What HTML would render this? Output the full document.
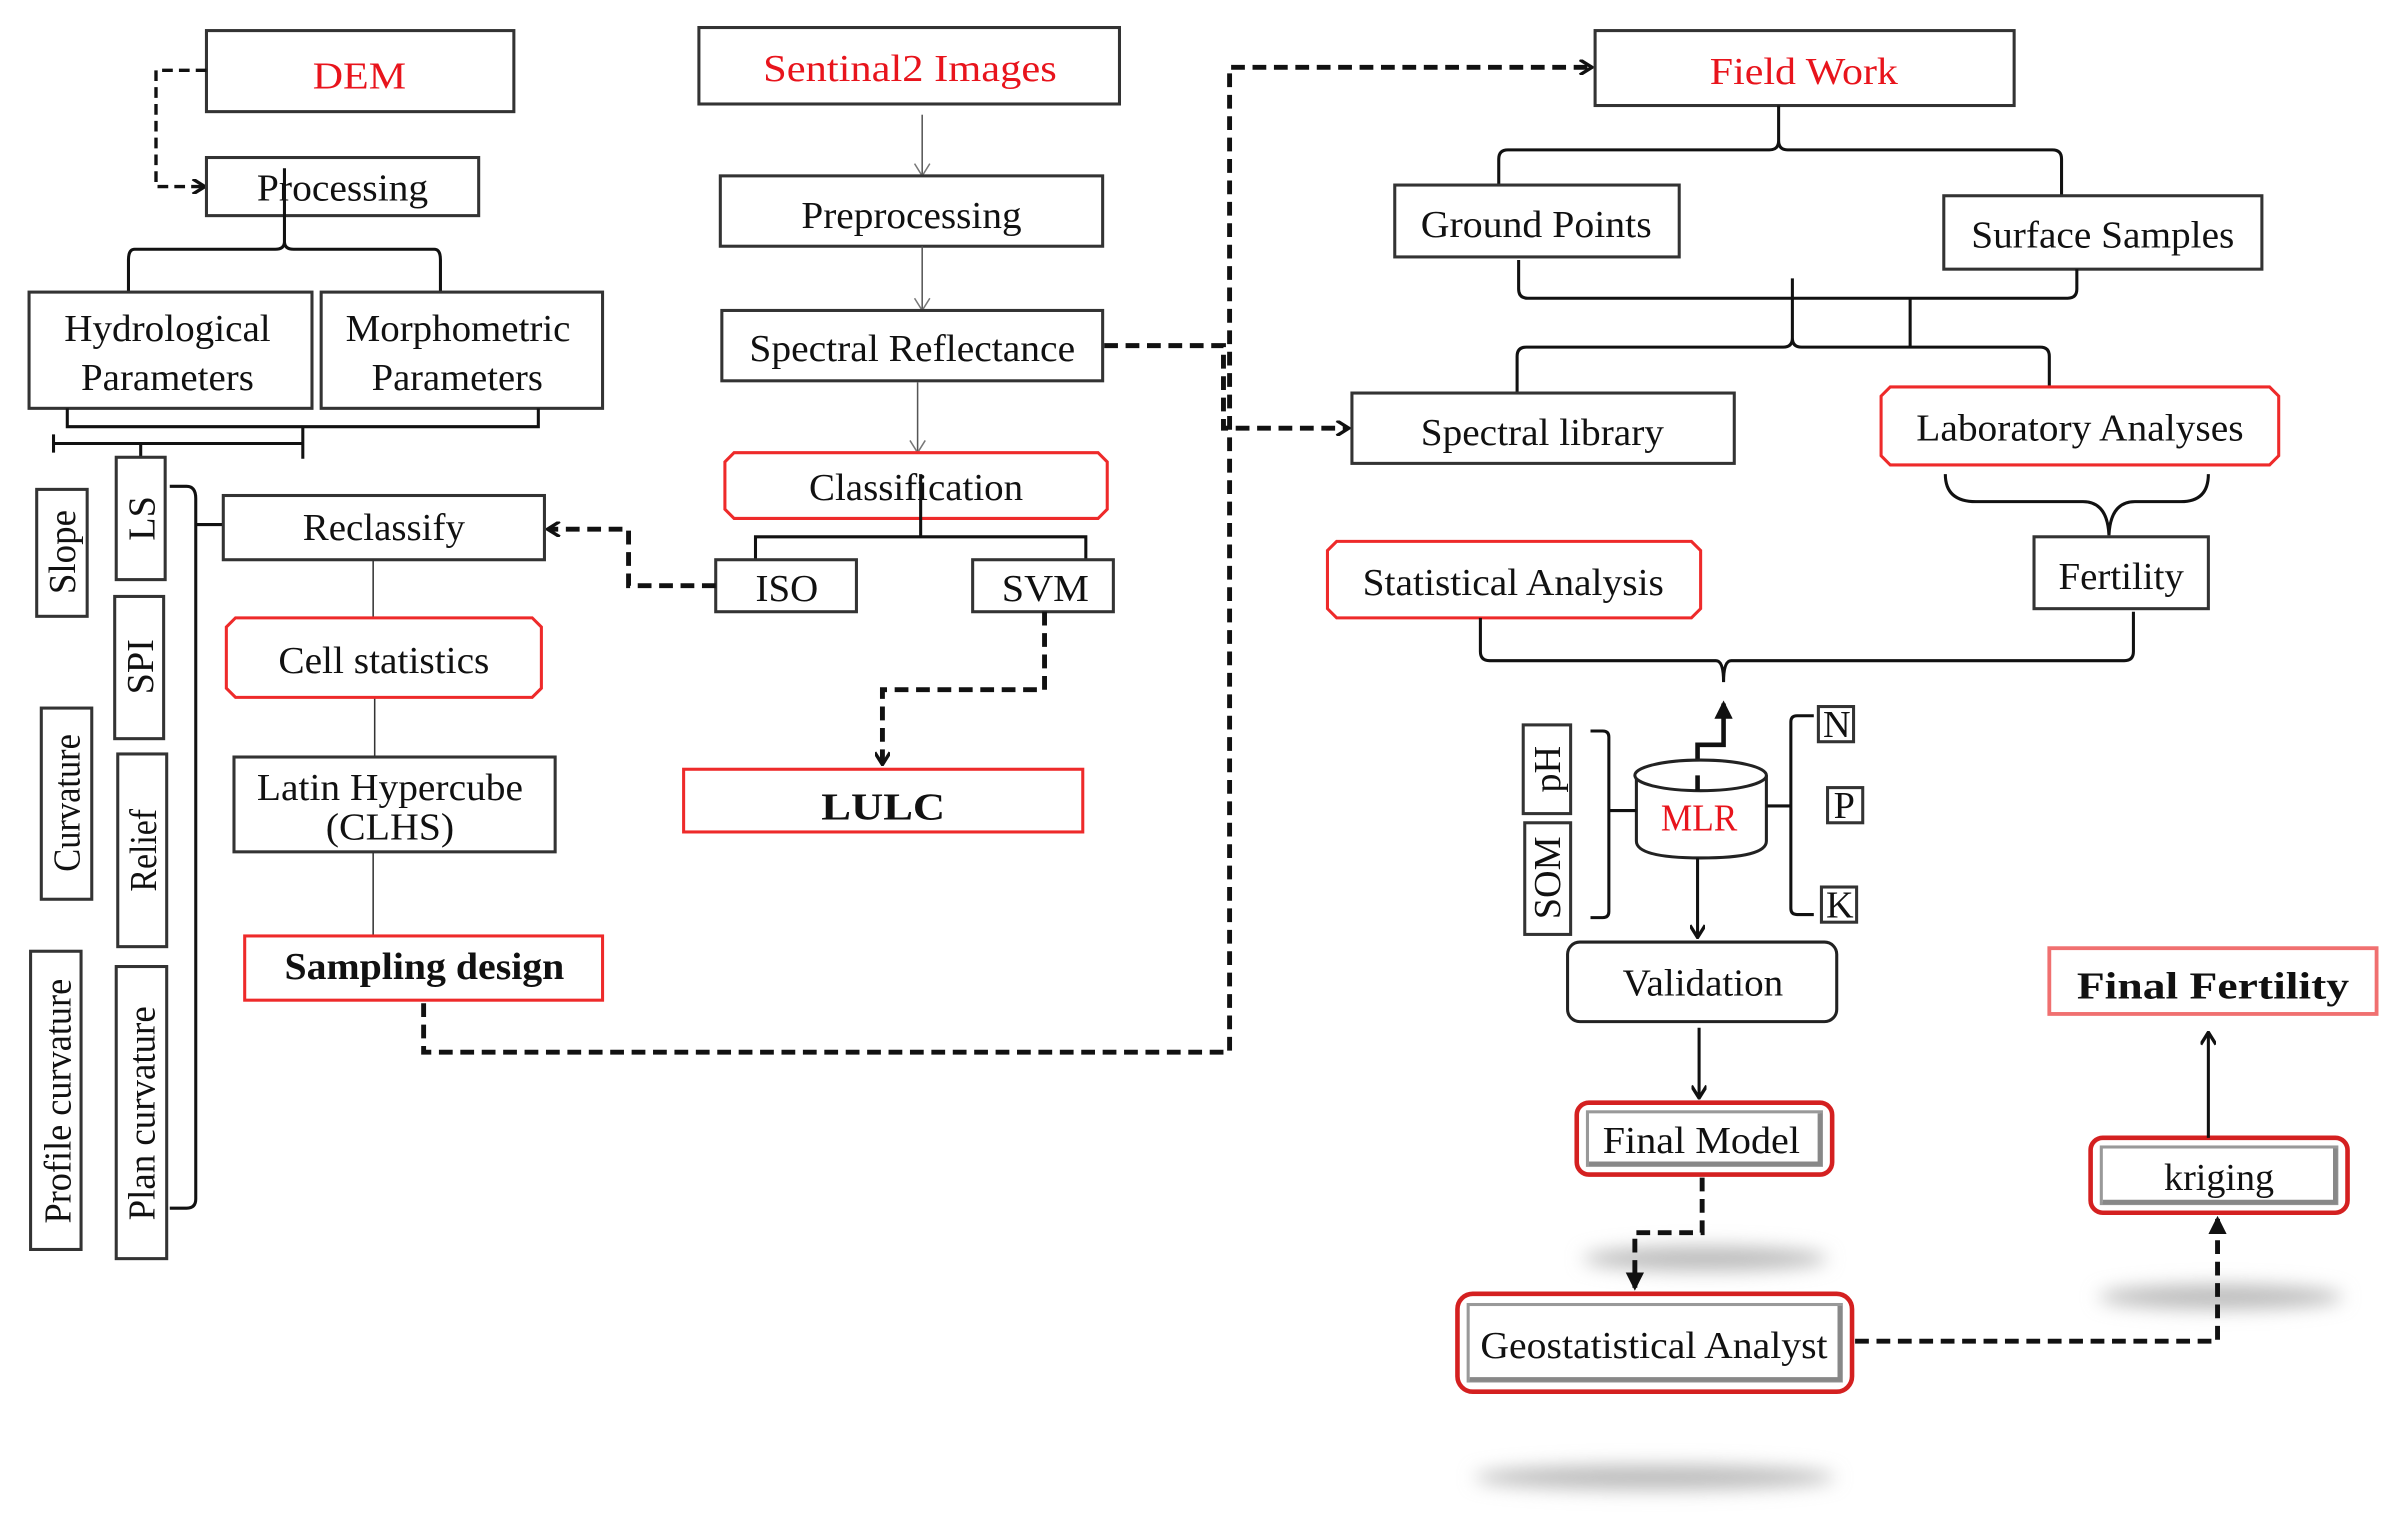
<!DOCTYPE html>
<html><head><meta charset="utf-8"><style>
html,body{margin:0;padding:0;background:#fff;}
svg{display:block;}
text{font-family:"Liberation Serif",serif;font-size:25px;fill:#111;}
.r{fill:#e8141c;}
.b{font-weight:bold;}
.bx{fill:#fff;stroke:#333;stroke-width:2;}
.rb{fill:#fff;stroke:#ee2a2a;stroke-width:2;}
.ln{fill:none;stroke:#111;stroke-width:2;}
.th{fill:none;stroke:#555;stroke-width:1;}
.ds{fill:none;stroke:#111;stroke-width:3.2;stroke-dasharray:9 5;}
</style></head><body>
<svg width="2398" height="1533" viewBox="0 0 1568 1002.4" preserveAspectRatio="none" xmlns="http://www.w3.org/2000/svg">
<defs>
<filter id="bl" x="-50%" y="-200%" width="200%" height="500%"><feGaussianBlur stdDeviation="6"/></filter>
<marker id="ah" markerWidth="10" markerHeight="10" refX="8" refY="5" orient="auto" markerUnits="userSpaceOnUse"><path d="M1,0 L9,5 L1,10" fill="none" stroke="#111" stroke-width="2.2"/></marker>
<marker id="ag" markerWidth="10" markerHeight="12" refX="8" refY="6" orient="auto" markerUnits="userSpaceOnUse"><path d="M1,1 L9,6 L1,11" fill="none" stroke="#777" stroke-width="1"/></marker>
<marker id="at" markerWidth="12" markerHeight="12" refX="10" refY="6" orient="auto" markerUnits="userSpaceOnUse"><path d="M0,0 L12,6 L0,12 Z" fill="#111"/></marker>
</defs>

<ellipse cx="1115" cy="823" rx="80" ry="8" fill="#bbb" filter="url(#bl)"/>
<ellipse cx="1452" cy="848" rx="80" ry="8" fill="#bbb" filter="url(#bl)"/>
<ellipse cx="1082" cy="966" rx="118" ry="8" fill="#bbb" filter="url(#bl)"/>

<rect class="bx" x="135" y="20" width="201" height="53"/>
<text class="r" x="235" y="58" font-size="28" text-anchor="middle" textLength="61" lengthAdjust="spacingAndGlyphs">DEM</text>
<path class="ds" style="stroke-width:2.2;stroke-dasharray:7 4" d="M135,46 H102 V122 H133" marker-end="url(#ah)"/>
<rect class="bx" x="135" y="103" width="178" height="38"/>
<text x="168" y="131" textLength="112" lengthAdjust="spacingAndGlyphs">Processing</text>
<path class="ln" d="M186,110 V158 Q186,163 180,163 H88 Q84,163 84,170 V191 M186,158 Q186,163 192,163 H284 Q288,163 288,170 V191"/>
<rect class="bx" x="19" y="191" width="185" height="76"/>
<text x="42" y="223" textLength="135" lengthAdjust="spacingAndGlyphs">Hydrological</text>
<text x="53" y="255" textLength="113" lengthAdjust="spacingAndGlyphs">Parameters</text>
<rect class="bx" x="210" y="191" width="184" height="76"/>
<text x="226" y="223" textLength="147" lengthAdjust="spacingAndGlyphs">Morphometric</text>
<text x="243" y="255" textLength="112" lengthAdjust="spacingAndGlyphs">Parameters</text>
<path class="ln" d="M44,267 V279 H352 V267 M198,279 V300 M35,290 H198 M35,284 V296 M92,290 V299"/>

<rect class="bx" x="24" y="320" width="33" height="83"/>
<text transform="translate(49,361) rotate(-90)" text-anchor="middle" textLength="55" lengthAdjust="spacingAndGlyphs">Slope</text>
<rect class="bx" x="76" y="299" width="32" height="80"/>
<text transform="translate(101,339) rotate(-90)" text-anchor="middle">LS</text>
<rect class="bx" x="75" y="390" width="32" height="93"/>
<text transform="translate(100,436) rotate(-90)" text-anchor="middle">SPI</text>
<rect class="bx" x="27" y="463" width="33" height="125"/>
<text transform="translate(52,525) rotate(-90)" text-anchor="middle" textLength="90" lengthAdjust="spacingAndGlyphs">Curvature</text>
<rect class="bx" x="77" y="493" width="32" height="126"/>
<text transform="translate(102,556) rotate(-90)" text-anchor="middle" textLength="54" lengthAdjust="spacingAndGlyphs">Relief</text>
<rect class="bx" x="20" y="622" width="33" height="195"/>
<text transform="translate(46,720) rotate(-90)" text-anchor="middle" textLength="160" lengthAdjust="spacingAndGlyphs">Profile curvature</text>
<rect class="bx" x="76" y="632" width="33" height="191"/>
<text transform="translate(101,728) rotate(-90)" text-anchor="middle" textLength="140" lengthAdjust="spacingAndGlyphs">Plan curvature</text>
<path class="ln" d="M111,318 H122 Q128,318 128,326 V784 Q128,790 122,790 H111 M128,343 H146"/>

<rect class="bx" x="146" y="324" width="210" height="42"/>
<text x="198" y="353" textLength="106" lengthAdjust="spacingAndGlyphs">Reclassify</text>
<path class="th" style="stroke:#333" d="M244,366 V404 M245,456 V495 M244,557 V612"/>
<path class="rb" d="M154,404 H348 L354,410 V450 L348,456 H154 L148,450 V410 Z"/>
<text x="182" y="440" textLength="138" lengthAdjust="spacingAndGlyphs">Cell statistics</text>
<rect class="bx" x="153" y="495" width="210" height="62"/>
<text x="168" y="523" textLength="174" lengthAdjust="spacingAndGlyphs">Latin Hypercube</text>
<text x="213" y="549" textLength="84" lengthAdjust="spacingAndGlyphs">(CLHS)</text>
<rect class="rb" x="160" y="612" width="234" height="42"/>
<text class="b" x="186" y="640" textLength="183" lengthAdjust="spacingAndGlyphs">Sampling design</text>

<path class="ds" d="M277,656 V688 H804 V44 H1040" marker-end="url(#ah)"/>
<path class="ds" d="M722,226 H800 V280 H881" marker-end="url(#ah)"/>

<rect class="bx" x="457" y="18" width="275" height="50"/>
<text class="r" x="499" y="53" textLength="192" lengthAdjust="spacingAndGlyphs">Sentinal2 Images</text>
<path class="th" d="M603,75 V114" marker-end="url(#ag)"/>
<rect class="bx" x="471" y="115" width="250" height="46"/>
<text x="524" y="149" textLength="144" lengthAdjust="spacingAndGlyphs">Preprocessing</text>
<path class="th" d="M603,161 V202" marker-end="url(#ag)"/>
<rect class="bx" x="472" y="203" width="249" height="46"/>
<text x="490" y="236" textLength="213" lengthAdjust="spacingAndGlyphs">Spectral Reflectance</text>
<path class="th" d="M600,250 V295" marker-end="url(#ag)"/>
<path class="rb" d="M480,296 H718 L724,302 V333 L718,339 H480 L474,333 V302 Z"/>
<text x="529" y="327" textLength="140" lengthAdjust="spacingAndGlyphs">Classification</text>
<path class="ln" d="M602,310 V351 M494,366 V351 H710 V366"/>
<rect class="bx" x="468" y="366" width="92" height="34"/>
<text x="494" y="393" textLength="41" lengthAdjust="spacingAndGlyphs">ISO</text>
<rect class="bx" x="636" y="366" width="92" height="34"/>
<text x="655" y="393" textLength="57" lengthAdjust="spacingAndGlyphs">SVM</text>
<path class="ds" d="M468,383 H411 V346 H359" marker-end="url(#ah)"/>
<path class="ds" d="M683,400 V451 H577 V499" marker-end="url(#ah)"/>
<rect class="rb" x="447" y="503" width="261" height="41"/>
<text class="b" x="537" y="536" font-size="31" textLength="81" lengthAdjust="spacingAndGlyphs">LULC</text>

<rect class="bx" x="1043" y="20" width="274" height="49"/>
<text class="r" x="1118" y="55" textLength="123" lengthAdjust="spacingAndGlyphs">Field Work</text>
<path class="ln" d="M1163,69 V92 Q1163,98 1157,98 H986 Q980,98 980,104 V121 M1163,92 Q1163,98 1169,98 H1342 Q1348,98 1348,104 V128"/>
<rect class="bx" x="912" y="121" width="186" height="47"/>
<text x="929" y="155" textLength="151" lengthAdjust="spacingAndGlyphs">Ground Points</text>
<rect class="bx" x="1271" y="128" width="208" height="48"/>
<text x="1289" y="162" textLength="172" lengthAdjust="spacingAndGlyphs">Surface Samples</text>
<path class="ln" d="M993,170 V189 Q993,195 999,195 H1352 Q1358,195 1358,189 V176 M1249,195 V228 M1172,182 V221 Q1172,227 1166,227 H998 Q992,227 992,233 V257 M1172,221 Q1172,227 1178,227 H1334 Q1340,227 1340,233 V258"/>
<rect class="bx" x="884" y="257" width="250" height="46"/>
<text x="929" y="291" textLength="159" lengthAdjust="spacingAndGlyphs">Spectral library</text>
<path class="rb" d="M1236,253 H1484 L1490,259 V298 L1484,304 H1236 L1230,298 V259 Z"/>
<text x="1253" y="288" textLength="214" lengthAdjust="spacingAndGlyphs">Laboratory Analyses</text>
<path class="ln" d="M1272,310 Q1272,328 1292,328 H1362 Q1378,328 1379,350 Q1380,328 1396,328 H1426 Q1444,328 1444,310"/>
<rect class="bx" x="1330" y="351" width="114" height="47"/>
<text x="1346" y="385" textLength="82" lengthAdjust="spacingAndGlyphs">Fertility</text>
<path class="rb" d="M874,354 H1106 L1112,360 V398 L1106,404 H874 L868,398 V360 Z"/>
<text x="891" y="389" textLength="197" lengthAdjust="spacingAndGlyphs">Statistical Analysis</text>
<path class="ln" d="M968,404 V426 Q968,432 974,432 H1122 Q1127,432 1127,446 Q1127,432 1132,432 H1389 Q1395,432 1395,426 V400"/>
<path class="ln" style="stroke-width:3" d="M1110,510 V487 H1127 V460" marker-end="url(#at)"/>

<path class="bx" style="stroke:#222" d="M1070,507 V550 Q1070,561 1112,561 Q1155,561 1155,550 V507"/>
<ellipse class="bx" style="stroke:#222" cx="1112" cy="507" rx="43" ry="10"/>
<path class="ln" style="stroke-width:3" d="M1110,507 V517"/>
<text class="r" x="1086" y="543" textLength="50" lengthAdjust="spacingAndGlyphs">MLR</text>
<path class="ln" d="M1040,478 H1048 Q1052,478 1052,482 V596 Q1052,600 1048,600 H1040 M1052,530 H1070 M1186,468 H1175 Q1171,468 1171,472 V594 Q1171,598 1175,598 H1186 M1155,527 H1171"/>
<rect class="bx" x="996" y="474" width="31" height="58"/>
<text transform="translate(1020,503) rotate(-90)" text-anchor="middle" font-size="23">pH</text>
<rect class="bx" x="997" y="538" width="30" height="73"/>
<text transform="translate(1020,574) rotate(-90)" text-anchor="middle" font-size="21">SOM</text>
<rect class="bx" x="1189" y="462" width="23" height="23"/>
<text x="1192" y="482" font-size="21">N</text>
<rect class="bx" x="1195" y="515" width="23" height="23"/>
<text x="1199" y="535" font-size="21">P</text>
<rect class="bx" x="1191" y="580" width="23" height="23"/>
<text x="1194" y="600" font-size="21">K</text>
<path class="ln" d="M1110,561 V612" marker-end="url(#ah)"/>

<rect class="bx" style="stroke:#222" x="1025" y="616" width="176" height="52" rx="8"/>
<text x="1061" y="651" textLength="105" lengthAdjust="spacingAndGlyphs">Validation</text>
<path class="ln" d="M1111,672 V717" marker-end="url(#ah)"/>

<rect x="1031" y="721" width="167" height="47" rx="8" fill="#fff" stroke="#d42020" stroke-width="3"/>
<rect x="1038" y="727" width="153" height="35" fill="#fff" stroke="#999" stroke-width="2"/>
<path d="M1039,761 H1190 V728" fill="none" stroke="#888" stroke-width="3"/>
<text x="1048" y="754" textLength="129" lengthAdjust="spacingAndGlyphs">Final Model</text>
<path class="ds" d="M1113,770 V806 H1069 V842" marker-end="url(#at)"/>

<rect x="953" y="846" width="258" height="64" rx="10" fill="#fff" stroke="#d42020" stroke-width="3"/>
<rect x="960" y="853" width="244" height="50" fill="#fff" stroke="#999" stroke-width="2"/>
<path d="M961,902 H1203 V854" fill="none" stroke="#888" stroke-width="3"/>
<text x="968" y="888" textLength="227" lengthAdjust="spacingAndGlyphs">Geostatistical Analyst</text>
<path class="ds" d="M1213,877 H1450 V797" marker-end="url(#at)"/>

<rect x="1367" y="744" width="168" height="49" rx="8" fill="#fff" stroke="#d42020" stroke-width="3"/>
<rect x="1374" y="750" width="154" height="37" fill="#fff" stroke="#999" stroke-width="2"/>
<path d="M1375,786 H1527 V751" fill="none" stroke="#888" stroke-width="3"/>
<text x="1415" y="778" textLength="72" lengthAdjust="spacingAndGlyphs">kriging</text>
<path class="ln" d="M1444,744 V676" marker-end="url(#ah)"/>

<rect x="1340" y="620" width="214" height="43" fill="#fff" stroke="#f07070" stroke-width="2.5"/>
<text class="b" x="1358" y="653" font-size="30" textLength="178" lengthAdjust="spacingAndGlyphs">Final Fertility</text>
</svg>
</body></html>
